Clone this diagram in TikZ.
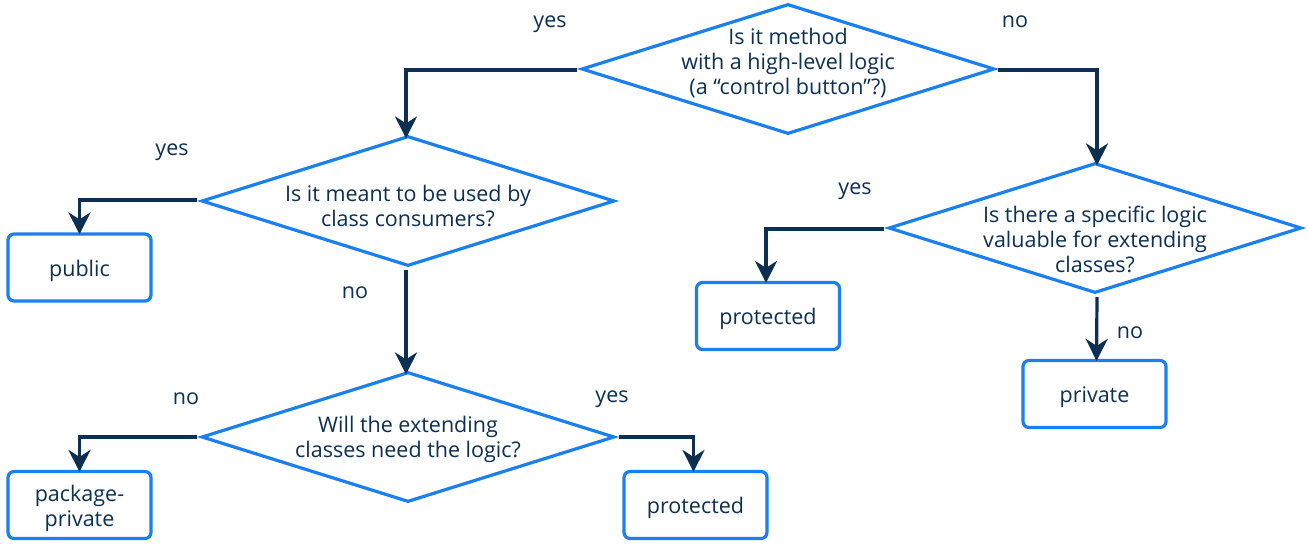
\documentclass[tikz,border=0pt]{standalone}
\usepackage{fontspec}
\setmainfont{Open Sans}
\usetikzlibrary{shapes.geometric,arrows.meta}
\definecolor{edge}{HTML}{1A80F2}
\definecolor{ink}{HTML}{0C2F52}
\begin{document}
\begin{tikzpicture}[x=1pt,y=-1pt,
  every node/.style={text=ink,font=\fontsize{21.5}{25}\selectfont},
  caption/.style={align=center,inner sep=0pt},
  decision/.style={draw=edge,line width=3.2pt,diamond,aspect=3.2,inner sep=0pt,
    minimum width=413pt,minimum height=130pt},
  leaf/.style={draw=edge,line width=3.2pt,rounded corners=6pt,
    minimum width=143pt,minimum height=67pt},
  flow/.style={draw=ink,line width=3.2pt,-{Stealth[length=22pt,width=22pt,inset=7pt]}},
  tag/.style={inner sep=0pt}]
\useasboundingbox (0,0) rectangle (1308,546);
% questions
\node[decision,label={[caption,yshift=6pt]center:{Is it method\\with a high-level logic\\(a “control button”?)}}] (q1) at (788,69) {};
\node[decision,label={[caption,yshift=-5pt]center:{Is it meant to be used by\\class consumers?}}] (q2) at (408,201) {};
\node[decision,label={[caption,yshift=-11pt]center:{Is there a specific logic\\valuable for extending\\classes?}}] (q3) at (1095,228) {};
\node[decision,label={[caption,yshift=-2pt]center:{Will the extending\\classes need the logic?}}] (q4) at (408,437) {};
% answers
\node[leaf,label={[caption,yshift=-3pt]center:public}] (pub) at (79.5,267.5) {};
\node[leaf,label={[caption,yshift=-3pt]center:{package-\\private}}] (pkg) at (79.5,505) {};
\node[leaf,label={[caption,yshift=-3pt]center:protected}] (prot1) at (695.5,505) {};
\node[leaf,label={[caption,yshift=-3pt]center:protected}] (prot2) at (768,316) {};
\node[leaf,label={[caption,yshift=-3pt]center:private}] (priv) at (1094.5,394) {};
% branch end points
\coordinate (q1w) at (577,70);
\coordinate (q1e) at (998,70);
\coordinate (q2w) at (197,200);
\coordinate (q2s) at (406,270);
\coordinate (q3w) at (884,229);
\coordinate (q3s) at (1097,297);
\coordinate (q4w) at (197,437);
\coordinate (q4e) at (619,437);
% connectors
\draw[flow] (q1w) -| ([xshift=-2pt,yshift=-4pt]q2.north);
\draw[flow] (q1e) -| ([xshift=2pt,yshift=-4pt]q3.north);
\draw[flow] (q2w) -| ([yshift=-2pt]pub.north);
\draw[flow] (q2s) -- ([xshift=-2pt,yshift=-4pt]q4.north);
\draw[flow] (q3w) -| ([xshift=-2pt,yshift=-2pt]prot2.north);
\draw[flow] (q3s) -- ([xshift=2pt,yshift=-2pt]priv.north);
\draw[flow] (q4w) -| ([yshift=-2pt]pkg.north);
\draw[flow] (q4e) -| ([xshift=-2pt,yshift=-2pt]prot1.north);
% branch labels
\node[tag] (l1) at (550,24) {yes};
\node[tag] (l2) at (1015,22) {no};
\node[tag] (l3) at (172,152) {yes};
\node[tag] (l4) at (355,293) {no};
\node[tag] (l5) at (855,191) {yes};
\node[tag] (l6) at (1130,333) {no};
\node[tag] (l7) at (186,399) {no};
\node[tag] (l8) at (612,399) {yes};
\end{tikzpicture}
\end{document}
